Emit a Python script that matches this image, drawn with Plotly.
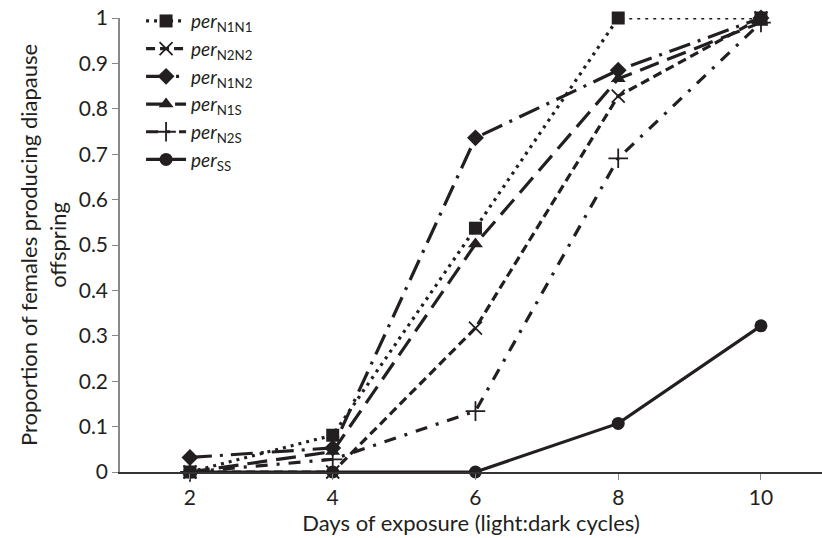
import plotly.graph_objects as go

days = [2, 4, 6, 8, 10]
names = ["<i>per</i><sub>N1N1</sub>", "<i>per</i><sub>N2N2</sub>", "<i>per</i><sub>N1N2</sub>",
         "<i>per</i><sub>N1S</sub>", "<i>per</i><sub>N2S</sub>", "<i>per</i><sub>SS</sub>"]
per_N1N1 = [0.0, 0.081, 0.537, 1.0, 1.0]
per_N2N2 = [0.0, 0.0, 0.317, 0.828, 1.0]
per_N1N2 = [0.032, 0.053, 0.736, 0.885, 1.0]
per_N1S = [0.0, 0.045, 0.502, 0.866, 0.99]
per_N2S = [0.0, 0.028, 0.134, 0.691, 0.99]
per_SS = [0.0, 0.0, 0.0, 0.107, 0.322]

series = [per_N1N1, per_N2N2, per_N1N2, per_N1S, per_N2S, per_SS]
dashes = ["3px,5px", "9px,5px", "22px,8px,3px,8px", "20px,9px", "12px,9px,3px,9px", "solid"]
symbols = ["square", "x-thin", "diamond", "triangle-up", "cross-thin", "circle"]
sizes = [13, 13, 13, 13, 14, 13]
ink = "#231f20"

fig = go.Figure()
for nm, vals, d, s, sz in zip(names, series, dashes, symbols, sizes):
    thin = s.endswith("thin")
    fig.add_trace(go.Scatter(
        x=days, y=vals, name=nm, mode="lines+markers",
        line=dict(color=ink, width=3.2, dash=d),
        marker=dict(symbol=s, size=sz, color=ink,
                    line=dict(color=ink, width=1.8 if thin else 0)),
        cliponaxis=False,
    ))

font = "Lato"
fig.update_layout(
    width=822, height=538,
    margin=dict(l=120, r=0, t=18, b=66),
    paper_bgcolor="white", plot_bgcolor="white",
    font=dict(family=font, size=21, color="#231f20"),
    showlegend=True,
    legend=dict(x=0.03, y=1.035, xanchor="left", yanchor="top",
                bgcolor="rgba(0,0,0,0)", font=dict(size=19),
                itemwidth=40),
)
fig.update_xaxes(
    range=[1.02, 10.855], tickvals=days, ticktext=[str(d) for d in days],
    showgrid=False, zeroline=False, showline=True, linecolor="#333333", linewidth=1.5,
    ticks="outside", ticklen=6, tickcolor="#888888",
    title=dict(text="Days of exposure (light:dark cycles)", font=dict(size=22), standoff=6),
)
fig.update_yaxes(
    range=[0, 1], tickvals=[0, 0.1, 0.2, 0.3, 0.4, 0.5, 0.6, 0.7, 0.8, 0.9, 1],
    ticktext=["0", "0.1", "0.2", "0.3", "0.4", "0.5", "0.6", "0.7", "0.8", "0.9", "1"],
    showgrid=False, zeroline=False, showline=True, linecolor="#888888", linewidth=1.5,
    ticks="outside", ticklen=6, tickcolor="#888888",
    title=dict(text="Proportion of females producing diapause<br>offspring", font=dict(size=22), standoff=6),
)
fig.write_html("out.html")
